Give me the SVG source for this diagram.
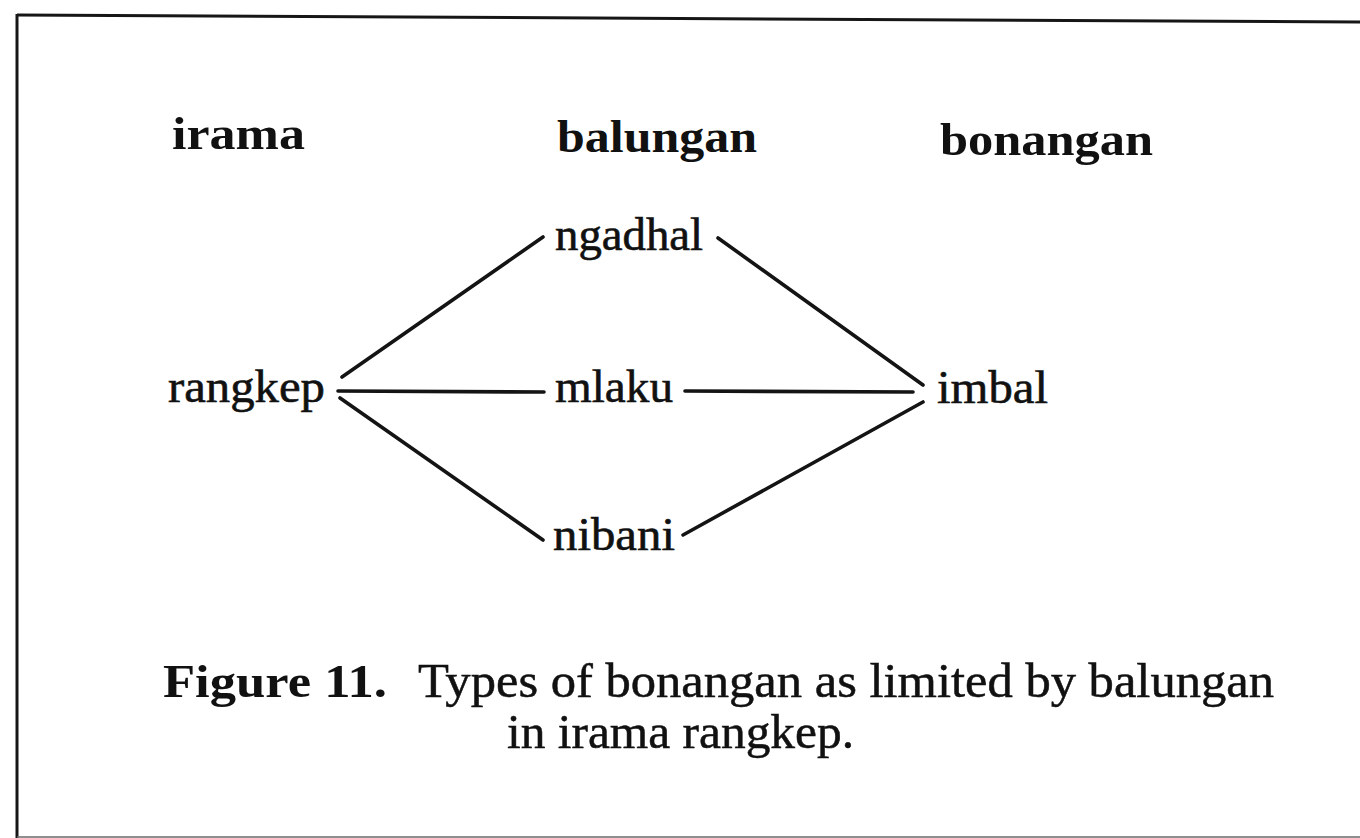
<svg xmlns="http://www.w3.org/2000/svg" width="1360" height="838" viewBox="0 0 1360 838">
  <style>
    .frame { stroke: #161616; stroke-width: 3; fill: none; }
    .frame-low { stroke: #6a6a6a; stroke-width: 1.5; fill: none; }
    .edge { stroke: #141414; stroke-width: 3.6; stroke-linecap: round; fill: none; }
    .head { font-family: "Liberation Serif", "DejaVu Serif", serif; font-weight: bold; font-size: 46px; fill: #111; }
    .label { font-family: "Liberation Serif", "DejaVu Serif", serif; font-size: 47px; fill: #111; stroke: #111; stroke-width: 0.6; }
    .cap { font-family: "Liberation Serif", "DejaVu Serif", serif; font-size: 48px; fill: #111; stroke: #111; stroke-width: 0.5; }
    .capb { font-family: "Liberation Serif", "DejaVu Serif", serif; font-weight: bold; font-size: 46px; fill: #111; }
  </style>
  <rect width="1360" height="838" fill="#ffffff"/>

  <!-- page frame -->
  <g id="frame">
    <line class="frame" x1="17" y1="15" x2="1360" y2="22"/>
    <line class="frame" x1="17" y1="14" x2="17" y2="838"/>
    <line class="frame-low" x1="17" y1="837" x2="1360" y2="837"/>
  </g>

  <!-- column headings -->
  <g id="headings">
    <text class="head" x="172" y="149" textLength="133" lengthAdjust="spacingAndGlyphs">irama</text>
    <text class="head" x="557" y="152" textLength="200" lengthAdjust="spacingAndGlyphs">balungan</text>
    <text class="head" x="940" y="155" textLength="213" lengthAdjust="spacingAndGlyphs">bonangan</text>
  </g>

  <!-- connectors -->
  <g id="connectors">
    <line class="edge" x1="342" y1="377" x2="543" y2="237"/>
    <line class="edge" x1="338" y1="391" x2="544" y2="392"/>
    <line class="edge" x1="340" y1="398" x2="543" y2="540"/>
    <line class="edge" x1="718" y1="238" x2="923" y2="385"/>
    <line class="edge" x1="685" y1="391" x2="913" y2="392"/>
    <line class="edge" x1="683" y1="535" x2="923" y2="402"/>
  </g>

  <!-- nodes -->
  <g id="node-rangkep">
    <text class="label" x="168" y="402" textLength="157" lengthAdjust="spacingAndGlyphs">rangkep</text>
  </g>
  <g id="node-ngadhal">
    <text class="label" x="555" y="250" textLength="148" lengthAdjust="spacingAndGlyphs">ngadhal</text>
  </g>
  <g id="node-mlaku">
    <text class="label" x="555" y="402" textLength="118" lengthAdjust="spacingAndGlyphs">mlaku</text>
  </g>
  <g id="node-nibani">
    <text class="label" x="553" y="550" textLength="122" lengthAdjust="spacingAndGlyphs">nibani</text>
  </g>
  <g id="node-imbal">
    <text class="label" x="937" y="403" textLength="111" lengthAdjust="spacingAndGlyphs">imbal</text>
  </g>

  <!-- caption -->
  <g id="caption">
    <text class="capb" x="163" y="697" textLength="224" lengthAdjust="spacingAndGlyphs">Figure 11.</text>
    <text class="cap" x="418" y="697" textLength="856" lengthAdjust="spacingAndGlyphs">Types of bonangan as limited by balungan</text>
    <text class="cap" x="507" y="748" textLength="347" lengthAdjust="spacingAndGlyphs">in irama rangkep.</text>
  </g>
</svg>
